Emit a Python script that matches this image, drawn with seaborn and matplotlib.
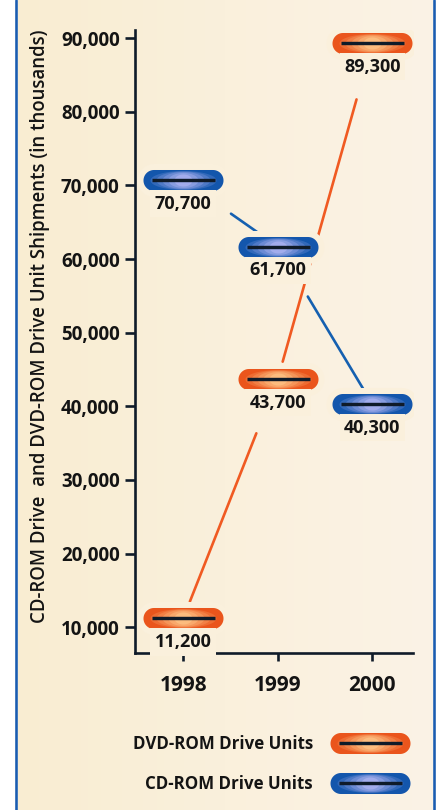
import numpy as np
import matplotlib
matplotlib.use("Agg")
import matplotlib.pyplot as plt
import pandas as pd
import seaborn as sns
from matplotlib.path import Path
from matplotlib.markers import MarkerStyle
from matplotlib.lines import Line2D
from matplotlib.legend_handler import HandlerTuple
from matplotlib.colors import LinearSegmentedColormap, to_rgb

# ---- data -------------------------------------------------------------
years = ["1998", "1999", "2000"]
dvd_units = [11200, 43700, 89300]
cd_units = [70700, 61700, 40300]
series_names = ["DVD-ROM Drive Units", "CD-ROM Drive Units"]
y_ticks = [10000, 20000, 30000, 40000, 50000, 60000, 70000, 80000, 90000]
y_label = "CD-ROM Drive  and DVD-ROM Drive Unit Shipments (in thousands)"

# ---- style ------------------------------------------------------------
sns.set_theme(style="ticks")
plt.rcParams["font.family"] = ["Open Sans", "DejaVu Sans"]

W_PX, H_PX = 439, 810
DPI = 100
PT = 72.0 / DPI          # points per pixel

INK = "#0f1b29"
TEXT = "#141414"
CREAM = "#FAF0DC"
BORDER = "#1a5cb0"
ORANGE_LINE = "#F05A22"
BLUE_LINE = "#1560B0"
palettes = {
    "DVD-ROM Drive Units": ("#EA551C", "#FCBC7E", ORANGE_LINE),
    "CD-ROM Drive Units": ("#1356AC", "#A2ACEC", BLUE_LINE),
}

fig = plt.figure(figsize=(W_PX / DPI, H_PX / DPI), dpi=DPI)
fig.patch.set_facecolor("white")

# cream panel with a soft left-to-right tint
bg = fig.add_axes([18 / W_PX, 0, 415 / W_PX, 1], zorder=-10)
panel_cmap = LinearSegmentedColormap.from_list("panel", ["#F9EDD2", "#FBF3E6"])
bg.imshow(np.linspace(0, 1, 256)[None, :], aspect="auto", cmap=panel_cmap,
          extent=[0, 1, 0, 1])
bg.set_axis_off()
for xb in (16.2 / W_PX, 434.3 / W_PX):
    fig.add_artist(Line2D([xb, xb], [0, 1], transform=fig.transFigure,
                          color=BORDER, lw=2.6 * PT))

ax = fig.add_axes([135 / W_PX, 1 - 653 / H_PX, 278 / W_PX, 623 / H_PX])
ax.set_facecolor("none")
ax.set_zorder(1)


# ---- marker shapes ----------------------------------------------------
def capsule_path(aspect):
    r = aspect
    cx = 1 - r
    t1 = np.linspace(-np.pi / 2, np.pi / 2, 40)
    right = np.column_stack([cx + r * np.cos(t1), r * np.sin(t1)])
    t2 = np.linspace(np.pi / 2, 3 * np.pi / 2, 40)
    left = np.column_stack([-cx + r * np.cos(t2), r * np.sin(t2)])
    verts = np.vstack([right, left, right[:1]])
    codes = [Path.MOVETO] + [Path.LINETO] * (len(verts) - 2) + [Path.CLOSEPOLY]
    return Path(verts, codes)


def ellipse_path(aspect):
    t = np.linspace(0, 2 * np.pi, 80)
    verts = np.column_stack([np.cos(t), aspect * np.sin(t)])
    codes = [Path.MOVETO] + [Path.LINETO] * (len(verts) - 2) + [Path.CLOSEPOLY]
    return Path(verts, codes)


def mix(c1, c2, t):
    a, b = np.array(to_rgb(c1)), np.array(to_rgb(c2))
    return tuple(a + (b - a) * t)


# (width px, height px, shade 0=outer .. 1=centre)
layers = [(80, 21, 0.0), (66, 19, 0.22), (54, 18, 0.42),
          (42, 17, 0.62), (30, 15, 0.82), (18, 12, 1.0)]


def layer_specs(name):
    outer, inner, _ = palettes[name]
    specs = []
    for i, (w, h, t) in enumerate(layers):
        path = capsule_path(h / w) if i == 0 else ellipse_path(h / w)
        specs.append((MarkerStyle(path), w * PT, mix(outer, inner, t)))
    return specs


df = pd.DataFrame({
    "pos": list(range(len(years))) * 2,
    "units": dvd_units + cd_units,
    "series": [series_names[0]] * len(years) + [series_names[1]] * len(years),
})

# ---- connecting segments ---------------------------------------------
for name in series_names:
    sub = df[df.series == name].sort_values("pos")
    pts = list(zip(sub.pos, sub.units))
    color = palettes[name][2]
    for (x1, y1), (x2, y2) in zip(pts[:-1], pts[1:]):
        s1 = 42 if y1 > y2 else 13
        s2 = 42 if y2 > y1 else 13
        ax.annotate("", xy=(x2, y2), xytext=(x1, y1),
                    arrowprops=dict(arrowstyle="-", color=color, lw=1.9,
                                    shrinkA=s1, shrinkB=s2),
                    zorder=2)

# ---- capsules ---------------------------------------------------------
halo = MarkerStyle(capsule_path(33 / 92))
for name in series_names:
    sub = df[df.series == name]
    sns.scatterplot(data=sub, x="pos", y="units", marker=halo,
                    s=(92 * PT) ** 2, color=CREAM, linewidth=0,
                    legend=False, ax=ax, zorder=3)
    for k, (mk, wpt, col) in enumerate(layer_specs(name)):
        sns.scatterplot(data=sub, x="pos", y="units", marker=mk,
                        s=wpt ** 2, color=col, linewidth=0,
                        legend=False, ax=ax, zorder=4 + k)
    ax.scatter(sub.pos, sub.units, marker="_", s=(63 * PT) ** 2,
               color=INK, linewidths=3.4 * PT, zorder=12)
    for x, v in zip(sub.pos, sub.units):
        ax.annotate(f"{v:,}", (x, v), xytext=(0, -17),
                    textcoords="offset points", ha="center", va="center",
                    fontsize=13, fontweight="bold", color=TEXT, zorder=13,
                    bbox=dict(boxstyle="square,pad=0.25", fc=CREAM, ec="none"))

# ---- axes -------------------------------------------------------------
ax.set_xlim(-0.51, 2.43)
ax.set_ylim(6500, 91100)
ax.set_xticks(range(len(years)), years)
ax.set_yticks(y_ticks, [f"{v:,}" for v in y_ticks])
ax.set_xlabel("")
sns.despine(ax=ax)
for side in ("left", "bottom"):
    ax.spines[side].set_color(INK)
    ax.spines[side].set_linewidth(1.9)
ax.tick_params(axis="y", length=7, width=1.9, color=INK, pad=4,
               labelsize=13.5, labelcolor=TEXT)
ax.tick_params(axis="x", length=6, width=1.9, color=INK, pad=10,
               labelsize=15, labelcolor=TEXT)
for lbl in ax.get_yticklabels() + ax.get_xticklabels():
    lbl.set_fontweight("bold")

ax.set_ylabel(y_label, fontsize=13.4, fontweight="semibold", color=TEXT)
ax.yaxis.label.set_va("center")
ax.yaxis.set_label_coords(-0.342, 0.525)

# ---- legend -----------------------------------------------------------
handles = []
for name in series_names:
    parts = [Line2D([], [], ls="none", marker=mk, ms=wpt, mfc=col, mec="none")
             for mk, wpt, col in layer_specs(name)]
    parts.append(Line2D([], [], ls="none", marker="_", ms=63 * PT,
                        mew=3.4 * PT, color=INK))
    handles.append(tuple(parts))

fig.legend(handles=handles, labels=series_names, loc="center right",
           bbox_to_anchor=(400.5 / W_PX, 1 - 764 / H_PX),
           markerfirst=False, frameon=False, handlelength=3.6,
           handletextpad=1.56, labelspacing=1.27, borderpad=0,
           borderaxespad=0, prop=dict(weight="bold", size=12.2),
           labelcolor=TEXT, handler_map={tuple: HandlerTuple(ndivide=1)})

fig.savefig("out.png", dpi=DPI)
